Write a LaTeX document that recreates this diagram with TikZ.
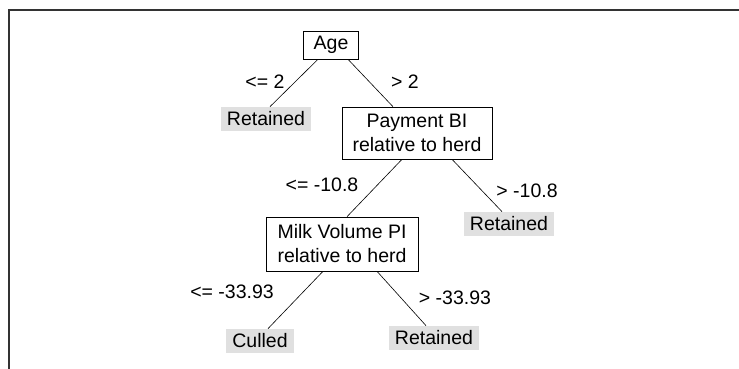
\documentclass[tikz,border=0pt]{standalone}
\usepackage{fontspec}
\setmainfont{Liberation Sans}
\usetikzlibrary{positioning}
\definecolor{cLeaf}{gray}{0.88}

\begin{document}
\begin{tikzpicture}[
    x=1pt, y=-1pt,
    font=\fontsize{19.5}{24}\selectfont,
    split/.style={rectangle, draw, line width=0.6pt, align=center,
                  inner xsep=10pt, inner ysep=5pt},
    leaf/.style={rectangle, fill=cLeaf, inner xsep=6pt, inner ysep=5pt},
    cond/.style={inner sep=1pt},
    branch/.style={line width=0.6pt},
]
\useasboundingbox (0,0) rectangle (739,369);
% --- frame (top and left edge only)
\draw[line width=2pt, black!80] (739,10) -- (9,10) -- (9,369);

% --- splits
\node[split, minimum width=53pt, minimum height=28pt] (age) at (331,45) {Age};
\node[split, minimum width=150pt, minimum height=52pt] (pay) at (417,133)
    {Payment BI\\relative to herd};
\node[split, minimum width=152pt, minimum height=54pt] (milk) at (342,244)
    {Milk Volume PI\\relative to herd};

% --- leaves
\node[leaf] (retA) at (266,119) {Retained};
\node[leaf] (retB) at (509,224) {Retained};
\node[leaf] (cull) at (260,341) {Culled};
\node[leaf] (retC) at (434,338) {Retained};

% --- branches
\draw[branch] ([xshift=-13pt]age.south) -- ([xshift=4pt]retA.north);
\draw[branch] ([xshift=17pt]age.south) -- ([xshift=-24pt]pay.north);
\draw[branch] ([xshift=-15pt]pay.south) -- ([xshift=5pt]milk.north);
\draw[branch] ([xshift=35pt]pay.south) -- ([xshift=-7pt]retB.north);
\draw[branch] ([xshift=-19pt]milk.south) -- ([xshift=8pt]cull.north);
\draw[branch] ([xshift=35pt]milk.south) -- ([xshift=-8pt]retC.north);

% --- branch conditions
\node[cond] (c1) at (265,82) {<= 2};
\node[cond] (c2) at (405,82) {> 2};
\node[cond] (c3) at (322,185) {<= -10.8};
\node[cond] (c4) at (527,191) {> -10.8};
\node[cond] (c5) at (232,292) {<= -33.93};
\node[cond] (c6) at (455,298) {> -33.93};
\end{tikzpicture}
\end{document}
